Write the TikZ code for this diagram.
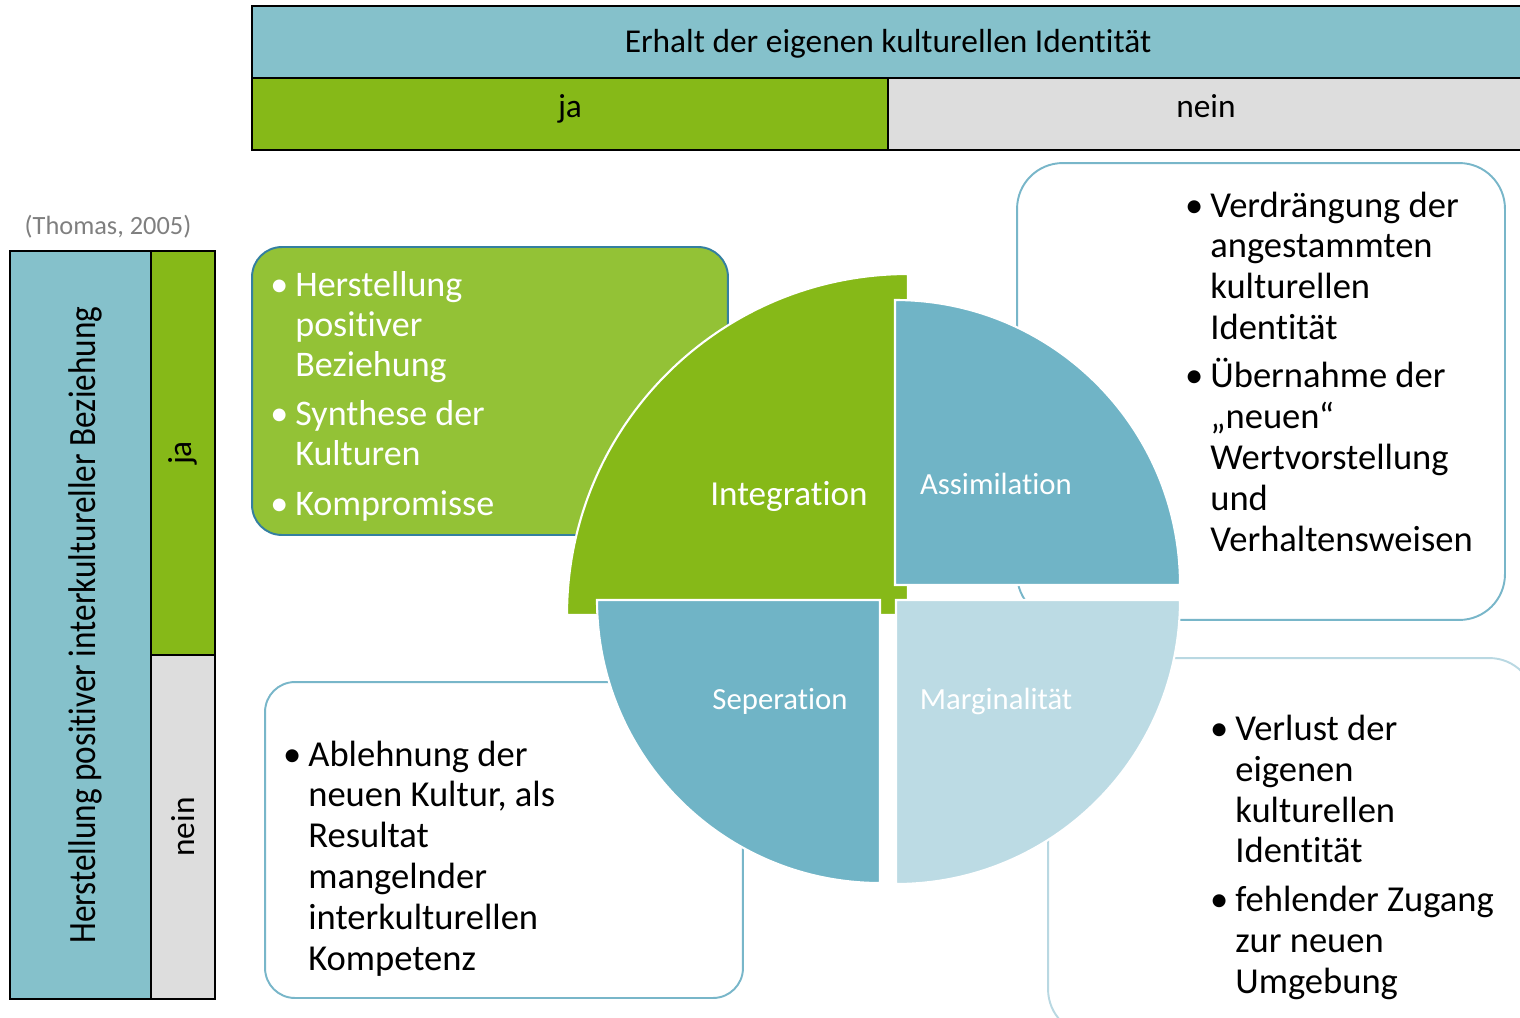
\documentclass[tikz,border=0pt]{standalone}
\usepackage{fontspec}
\setmainfont{Carlito}[Ligatures=NoCommon]
\usepackage{tikz}
\usetikzlibrary{positioning}
\definecolor{kopf}{RGB}{133,193,203}
\definecolor{gruen}{RGB}{134,185,24}
\definecolor{hellgruen}{RGB}{147,194,54}
\definecolor{grau}{RGB}{221,221,221}
\definecolor{tuerkis}{RGB}{112,180,198}
\definecolor{hellblau}{RGB}{188,219,228}
\definecolor{rand}{RGB}{120,182,201}
\definecolor{randhell}{RGB}{185,216,226}
\definecolor{randdunkel}{RGB}{52,127,160}
\definecolor{quelle}{RGB}{127,127,127}

\newcommand{\bul}{\llap{\textbullet\hspace{4pt}}}

\begin{document}
\begin{tikzpicture}[
            x=0.02cm, y=-0.02cm,
            head_cell/.style={
                draw=black, line width=1.3pt, inner sep=0pt,
                font=\fontsize{19}{23}\selectfont
            },
            note_box/.style={rectangle, line width=1.1pt, inner sep=0pt, rounded corners=#1},
            note_box/.default=17pt,
            % base = baseline of the last line
            note_text/.style={anchor=base west, align=left, inner sep=0pt,
                font=\fontsize{20.8}{23.2}\selectfont},
            quad_label/.style={anchor=base, text=white, inner sep=0pt,
                font=\fontsize{17.5}{21}\selectfont},
            quad/.style={draw=white, line width=1.2pt}
        ]
        \useasboundingbox (0,0) rectangle (1520,1017);

        % Header: Erhalt der eigenen kulturellen Identitaet
        \node[head_cell, fill=kopf, minimum width=25.44cm, minimum height=1.44cm,
              text height=13pt, text depth=0.5pt] (kopf_titel) at (888,42)
            {Erhalt der eigenen kulturellen Identität};
        \node[head_cell, fill=gruen, minimum width=12.72cm, minimum height=1.44cm,
              text height=8pt, text depth=3.5pt] (kopf_ja) at (570,114) {ja};
        \node[head_cell, fill=grau, minimum width=12.72cm, minimum height=1.44cm,
              text height=8pt, text depth=3.5pt] (kopf_nein) at (1206,114) {nein};

        % Side: Herstellung positiver interkultureller Beziehung
        \node[head_cell, fill=kopf, minimum width=2.82cm, minimum height=14.96cm] (seite_titel) at (80.5,625)
            {\hspace*{5.5pt}\rotatebox{90}{\fontsize{22}{26}\selectfont\scalebox{0.86}[1]{Herstellung positiver interkultureller Beziehung}}};
        \node[head_cell, fill=gruen, minimum width=1.28cm, minimum height=8.08cm] (seite_ja) at (183,453) {\rotatebox{90}{ja}};
        \node[head_cell, fill=grau, minimum width=1.28cm, minimum height=6.88cm] (seite_nein) at (183,827) {\rotatebox{90}{nein}};
        \node[anchor=base, inner sep=0pt, text=quelle, font=\fontsize{15}{18}\selectfont] (quelle) at (108,234) {(Thomas, 2005)};

        % Note boxes
        \node[note_box, draw=randdunkel, fill=hellgruen, minimum width=9.52cm, minimum height=5.76cm] (integ_box) at (490,391) {};
        \node[note_box=26pt, draw=rand, fill=white, minimum width=9.76cm, minimum height=9.14cm] (assim_box) at (1261,391.5) {};
        \node[note_box=26pt, draw=randhell, fill=white, minimum width=9.74cm, minimum height=7.54cm] (margin_box) at (1291.5,846.5) {};
        \node[note_box, draw=rand, fill=white, minimum width=9.56cm, minimum height=6.32cm] (separ_box) at (504,840) {};

        \node[note_text, text=white, font=\fontsize{20.5}{22.7}\selectfont] (integ_note) at (295,515)
            {\bul Herstellung\\ positiver\\ Beziehung\\[5.5pt]
             \bul Synthese der\\ Kulturen\\[5.5pt]
             \bul Kompromisse};
        \node[note_text] (assim_note) at (1210,551)
            {\bul Verdrängung der\\ angestammten\\ kulturellen\\ Identität\\[4.5pt]
             \bul Übernahme der\\ „neuen“\\ Wertvorstellung\\ und\\ Verhaltensweisen};
        \node[note_text] (margin_note) at (1235,993)
            {\bul Verlust der\\ eigenen\\ kulturellen\\ Identität\\[4.5pt]
             \bul fehlender Zugang\\ zur neuen\\ Umgebung};
        \node[note_text] (separ_note) at (308,970)
            {\bul Ablehnung der\\ neuen Kultur, als\\ Resultat\\ mangelnder\\ interkulturellen\\ Kompetenz};

        % Quadrants
        \filldraw[fill=gruen, quad] (908,615) -- ++(-341,0) arc[start angle=180, end angle=270, radius=341] -- cycle;
        \filldraw[fill=tuerkis, quad] (895,585) -- ++(0,-285) arc[start angle=270, end angle=360, radius=285] -- cycle;
        \filldraw[fill=hellblau, quad] (896,600) -- ++(284,0) arc[start angle=0, end angle=90, radius=284] -- cycle;
        \filldraw[fill=tuerkis, quad] (880,600) -- ++(0,283) arc[start angle=90, end angle=180, radius=283] -- cycle;

        \node[quad_label, font=\fontsize{20}{24}\selectfont] (integ_lbl) at (789,505) {Integration};
        \node[quad_label] (assim_lbl) at (996,494) {Assimilation};
        \node[quad_label] (separ_lbl) at (780,709) {Seperation};
        \node[quad_label] (margin_lbl) at (996,709) {Marginalität};
\end{tikzpicture}
\end{document}
